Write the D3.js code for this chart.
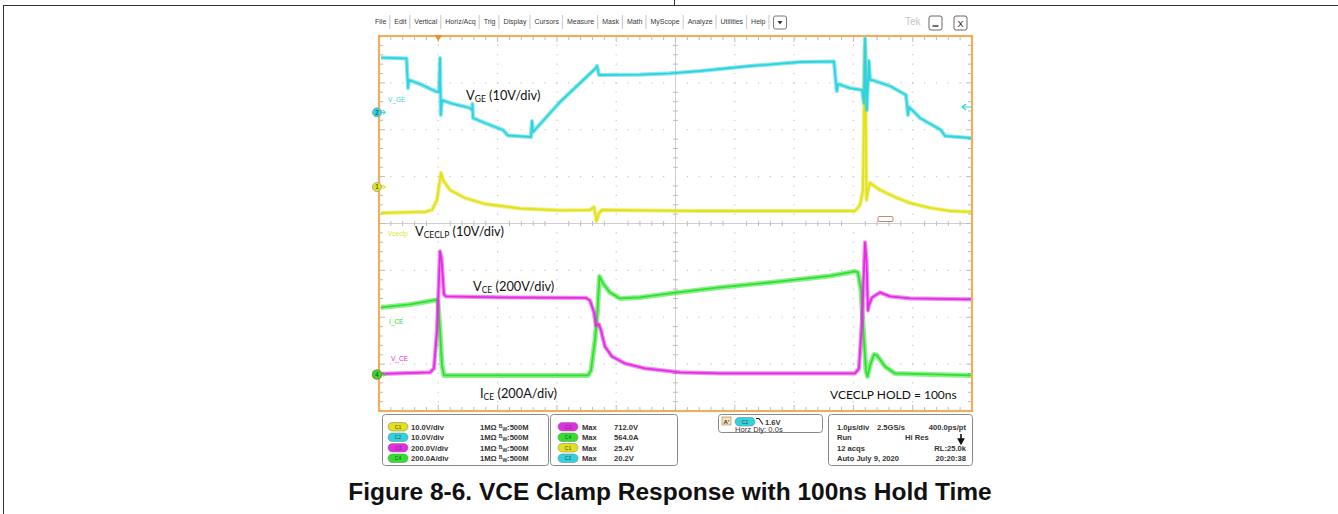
<!DOCTYPE html>
<html>
<head>
<meta charset="utf-8">
<script src="https://cdn.jsdelivr.net/npm/d3@7"></script>
<style>
  body { margin: 0; background: #fff; }
  svg { display: block; }
</style>
</head>
<body>
<svg id="chart" width="1338" height="514"></svg>
<script>
// ---- Acquired waveforms: [time (µs, trigger at 0), value in channel units] ----
const vgeTrace = [
  [-0.966, 11.67], [-0.536, 11.5], [-0.519, 7.34], [-0.511, 5.2], [-0.494, 6.91],
  [-0.309, 6.06], [-0.039, 4.46], [0.012, 4.35], [0.029, 11.6], [0.042, -0.55],
  [0.062, 2.64], [0.197, 2.0], [0.535, 0.94], [0.568, 0.5], [0.577, 1.8],
  [0.585, -1.2], [0.787, -2.26], [1.091, -3.75], [1.175, -4.93], [1.563, -5.25],
  [1.58, -1.83], [1.597, -4.18], [2.052, 2.22], [2.659, 9.47], [2.676, 9.9],
  [2.71, 7.98], [3.401, 8.08], [3.907, 8.34], [4.413, 8.83], [5.256, 9.9],
  [6.1, 10.75], [6.673, 10.86], [6.707, 6.06], [6.72, 4.56], [6.74, 6.06],
  [6.94, 5.2], [7.145, 4.78], [7.18, 2.0], [7.196, 15.8], [7.225, 0.5],
  [7.262, 11.0], [7.28, 6.9], [7.314, 6.91], [7.617, 5.63], [7.887, 3.71],
  [7.904, 1.58], [7.92, -0.55], [7.94, 1.15], [8.123, -1.19], [8.477, -3.75],
  [8.545, -5.03], [8.983, -5.46]
];
const vceclpTrace = [
  [-0.966, -5.55], [-0.224, -5.33], [-0.106, -4.91], [-0.022, -2.77], [0.046, 2.99],
  [0.079, 1.49], [0.197, -0.64], [0.45, -2.35], [0.788, -3.63], [1.378, -4.59],
  [2.052, -5.01], [2.558, -4.91], [2.625, -4.27], [2.668, -7.25], [2.71, -5.55],
  [2.76, -4.91], [4.413, -5.12], [7.027, -5.12], [7.111, -3.84], [7.162, -0.64],
  [7.196, 30.3], [7.221, -2.77], [7.246, -0.64], [7.28, 0.85], [7.449, -0.64],
  [7.7, -2.13], [7.954, -3.41], [8.292, -4.48], [8.629, -5.12], [8.983, -5.33]
];
const vceTrace = [
  [-0.966, 2.1], [-0.14, 8.5], [-0.073, 25.6], [-0.022, 187.7], [0.029, 524.8],
  [0.054, 494.9], [0.096, 341.3], [0.13, 332.8], [1.04, 328.5], [2.491, 326.4],
  [2.558, 315.7], [2.626, 264.5], [2.659, 209.0], [2.71, 213.3], [2.744, 187.7],
  [2.811, 119.5], [2.929, 76.8], [3.148, 46.9], [3.486, 25.6], [4.076, 8.5],
  [4.75, 4.3], [7.027, 4.3], [7.094, 25.6], [7.145, 230.4], [7.196, 563.2],
  [7.221, 486.4], [7.246, 273.0], [7.26, 294.0], [7.314, 328.5], [7.449, 349.9],
  [7.617, 332.8], [7.954, 324.3], [8.983, 320.0]
];
const iceTrace = [
  [-0.966, 285.9], [-0.477, 298.7], [-0.039, 317.9], [-0.005, 307.2], [0.029, 187.7],
  [0.062, 38.4], [0.096, -4.3], [1.04, -4.3], [2.524, -4.3], [2.575, 17.1],
  [2.642, 145.0], [2.685, 273.0], [2.718, 418.1], [2.777, 388.3], [2.895, 349.9],
  [3.064, 324.3], [3.401, 328.5], [3.907, 345.6], [4.75, 371.2], [5.762, 396.8],
  [6.605, 420.3], [7.027, 439.5], [7.077, 435.2], [7.128, 358.4], [7.179, 145.0],
  [7.212, 17.1], [7.238, -8.5], [7.28, 38.4], [7.347, 85.3], [7.398, 81.1],
  [7.533, 34.1], [7.702, 4.3], [8.983, -4.3]
];

// ---- Channel settings ----
const channelIds     = ["C1", "C2", "C3", "C4"];
const channelNames   = ["Vceclp", "V_GE", "V_CE", "I_CE"];
const channelScales  = [10, 10, 200, 200];          // units per division
const channelUnits   = ["V", "V", "V", "A"];
const channelOffsets = [0.779, 2.37, -3.22, -3.22]; // ground position, divisions
const channelColors  = ["#e2e21a", "#2fd3df", "#e22de2", "#2fe02f"];

// ---- Readouts ----
const scaleLabels = ["10.0V/div", "10.0V/div", "200.0V/div", "200.0A/div"];
const measChannels = ["C3", "C4", "C1", "C2"];
const measLabels = ["Max", "Max", "Max", "Max"];
const measValues = ["712.0V", "564.0A", "25.4V", "20.2V"];
const timebaseRows = [
  ["1.0µs/div", "2.5GS/s", "400.0ps/pt"],
  ["Run", "Hi Res", ""],
  ["12 acqs", "", "RL:25.0k"],
  ["Auto   July 9, 2020", "", "20:20:38"]
];
const menuItems = ["File", "Edit", "Vertical", "Horiz/Acq", "Trig", "Display", "Cursors",
  "Measure", "Mask", "Math", "MyScope", "Analyze", "Utilities", "Help"];

const svg = d3.select("#chart");
const SANS = "'Liberation Sans', Arial, sans-serif";

// Page frame lines
svg.append("line").attr("x1", 3.5).attr("x2", 1338).attr("y1", 5.5).attr("y2", 5.5)
  .attr("stroke", "#333").attr("stroke-width", 1);
svg.append("line").attr("x1", 3.5).attr("x2", 3.5).attr("y1", 5).attr("y2", 514)
  .attr("stroke", "#333").attr("stroke-width", 1);
svg.append("line").attr("x1", 674.5).attr("x2", 674.5).attr("y1", 0).attr("y2", 5)
  .attr("stroke", "#333").attr("stroke-width", 1);

// ---- Scales ----
const x = d3.scaleLinear().domain([-1, 9]).range([379, 972]);
const yDiv = d3.scaleLinear().domain([-4, 4]).range([411, 36]);
const [px0, px1] = x.range();
const [py1, py0] = yDiv.range();

// ---- Menu bar ----
const menu = svg.append("g").attr("font-family", SANS).attr("font-size", 7).attr("fill", "#3a3a3a");
let mx = 375;
menuItems.forEach((m, i) => {
  const t = menu.append("text").attr("x", mx).attr("y", 23.5).text(m);
  const w = t.node().getComputedTextLength();
  mx += w + 4;
  menu.append("line").attr("x1", mx - 0.5).attr("x2", mx - 0.5).attr("y1", 15).attr("y2", 29)
    .attr("stroke", "#b8b8b8").attr("stroke-width", 0.8);
  mx += 4;
});
const dropBox = menu.append("g").attr("transform", `translate(${mx},16)`);
dropBox.append("rect").attr("width", 13).attr("height", 13).attr("rx", 2)
  .attr("fill", "#fff").attr("stroke", "#666").attr("stroke-width", 0.9);
dropBox.append("path").attr("d", "M4,5 L9,5 L6.5,8.5 Z").attr("fill", "#333");
menu.append("text").attr("x", 905).attr("y", 24.5).attr("font-size", 10)
  .attr("fill", "#c4c4c4").text("Tek");
[[929, "min"], [954, "X"]].forEach(([bx, k]) => {
  const g = menu.append("g").attr("transform", `translate(${bx},16)`);
  g.append("rect").attr("width", 13).attr("height", 14).attr("rx", 2)
    .attr("fill", "#fff").attr("stroke", "#555").attr("stroke-width", 0.9);
  if (k === "min") {
    g.append("line").attr("x1", 3.5).attr("x2", 9.5).attr("y1", 10).attr("y2", 10)
      .attr("stroke", "#222").attr("stroke-width", 1.3);
  } else {
    g.append("text").attr("x", 6.5).attr("y", 10.5).attr("text-anchor", "middle")
      .attr("font-size", 9).attr("fill", "#222").text("X");
  }
});

// ---- Graticule ----
const grid = svg.append("g");
const minorX = (x(1) - x(0)) / 5;
const minorY = (yDiv(0) - yDiv(1)) / 5;
const gridColor = "#c6c6c6";
d3.range(-1, 10).forEach(d => {
  if (d === -1 || d === 9) return;
  const gx = x(d);
  if (d === 4) {
    grid.append("line").attr("x1", gx).attr("x2", gx).attr("y1", py0).attr("y2", py1)
      .attr("stroke", "#cfcfcf").attr("stroke-width", 1);
  } else {
    grid.append("line").attr("x1", gx).attr("x2", gx).attr("y1", py0).attr("y2", py1)
      .attr("stroke", gridColor).attr("stroke-width", 1.2)
      .attr("stroke-dasharray", `1.2 ${minorY - 1.2}`).attr("stroke-dashoffset", 0.6);
  }
});
d3.range(-4, 5).forEach(d => {
  if (d === -4 || d === 4) return;
  const gy = yDiv(d);
  if (d === 0) {
    grid.append("line").attr("x1", px0).attr("x2", px1).attr("y1", gy).attr("y2", gy)
      .attr("stroke", "#cfcfcf").attr("stroke-width", 1);
  } else {
    grid.append("line").attr("x1", px0).attr("x2", px1).attr("y1", gy).attr("y2", gy)
      .attr("stroke", gridColor).attr("stroke-width", 1.2)
      .attr("stroke-dasharray", `1.2 ${minorX - 1.2}`).attr("stroke-dashoffset", 0.6);
  }
});
// minor ticks on centre lines and edges
const tickPath = d3.path();
d3.range(0, 51).forEach(i => {
  const tx = px0 + i * minorX;
  if (i % 5 === 0 || i === 50) return;
  tickPath.moveTo(tx, yDiv(0) - 2.5); tickPath.lineTo(tx, yDiv(0) + 2.5);
  tickPath.moveTo(tx, py0); tickPath.lineTo(tx, py0 + 4);
  tickPath.moveTo(tx, py1); tickPath.lineTo(tx, py1 - 4);
});
d3.range(0, 41).forEach(i => {
  const ty = py0 + i * minorY;
  if (i % 5 === 0 || i === 40) return;
  tickPath.moveTo(x(4) - 2.5, ty); tickPath.lineTo(x(4) + 2.5, ty);
  tickPath.moveTo(px0, ty); tickPath.lineTo(px0 + 4, ty);
  tickPath.moveTo(px1, ty); tickPath.lineTo(px1 - 4, ty);
});
d3.range(1, 10).forEach(i => {
  const tx = px0 + i * minorX * 5;
  tickPath.moveTo(tx, py0); tickPath.lineTo(tx, py0 + 6);
  tickPath.moveTo(tx, py1); tickPath.lineTo(tx, py1 - 6);
});
d3.range(1, 8).forEach(i => {
  const ty = py0 + i * minorY * 5;
  tickPath.moveTo(px0, ty); tickPath.lineTo(px0 + 6, ty);
  tickPath.moveTo(px1, ty); tickPath.lineTo(px1 - 6, ty);
});
grid.append("path").attr("d", tickPath.toString()).attr("stroke", "#bdbdbd")
  .attr("stroke-width", 1).attr("fill", "none");

// ---- Waveforms ----
svg.append("clipPath").attr("id", "screen").append("rect")
  .attr("x", px0).attr("y", py0).attr("width", px1 - px0).attr("height", py1 - py0);
const traces = svg.append("g").attr("clip-path", "url(#screen)");
const traceSets = [
  { data: iceTrace, ch: 3, band: 5 },
  { data: vceTrace, ch: 2, band: 4.2 },
  { data: vceclpTrace, ch: 0, band: 4.2 },
  { data: vgeTrace, ch: 1, band: 4.2 }
];
traceSets.forEach(s => {
  const line = d3.line()
    .x(d => x(d[0]))
    .y(d => yDiv(d[1] / channelScales[s.ch] + channelOffsets[s.ch]));
  traces.append("path").datum(s.data).attr("d", line).attr("fill", "none")
    .attr("stroke", channelColors[s.ch]).attr("stroke-width", s.band)
    .attr("stroke-opacity", 0.55).attr("stroke-linejoin", "round");
  traces.append("path").datum(s.data).attr("d", line).attr("fill", "none")
    .attr("stroke", channelColors[s.ch]).attr("stroke-width", 1.8)
    .attr("stroke-linejoin", "round");
});

// Reference marker box on the yellow baseline
svg.append("rect").attr("x", 878).attr("y", 216.5).attr("width", 15).attr("height", 5)
  .attr("rx", 1).attr("fill", "#fff").attr("stroke", "#b87a66").attr("stroke-width", 0.9);

// Screen border
svg.append("rect").attr("x", px0).attr("y", py0).attr("width", px1 - px0).attr("height", py1 - py0)
  .attr("fill", "none").attr("stroke", "#eab060").attr("stroke-width", 2.2);

// Trigger position marker
svg.append("path")
  .attr("d", `M${x(0) - 4},${py0 - 1} L${x(0) + 4},${py0 - 1} L${x(0)},${py0 + 5} Z`)
  .attr("fill", "#f0902a");
// Trigger level arrow (channel 2)
svg.append("path").attr("d", "M963,107 L972,107 M966,104 L962,107 L966,110")
  .attr("stroke", channelColors[1]).attr("stroke-width", 1.2).attr("fill", "none");

// Channel ground markers
[[1, "2"], [0, "1"], [3, "4"]].forEach(([ch, label]) => {
  const gy = yDiv(channelOffsets[ch]);
  const g = svg.append("g").attr("transform", `translate(377,${gy})`);
  g.append("path").attr("d", "M4,0 L8,0 M6,-2 L8.5,0 L6,2")
    .attr("stroke", channelColors[ch]).attr("stroke-width", 1).attr("fill", "none");
  g.append("circle").attr("r", 4.6).attr("fill", channelColors[ch])
    .attr("stroke", ch === 3 ? "#7a9a3a" : "#9a9a9a").attr("stroke-width", ch === 3 ? 1.3 : 0.7);
  g.append("text").attr("y", 2.3).attr("text-anchor", "middle").attr("font-family", SANS)
    .attr("font-size", 6.5).attr("fill", "#333").text(label);
});

// Channel trace labels on screen
const tinyLabels = [[1, 388, 102, "V_GE"], [0, 388, 235.5, "Vceclp"], [3, 389, 324, "I_CE"], [2, 391, 360.5, "V_CE"]];
tinyLabels.forEach(([ch, lx, ly, txt]) => {
  svg.append("text").attr("x", lx).attr("y", ly).attr("font-family", SANS)
    .attr("font-size", 6.5).attr("fill", channelColors[ch]).text(txt);
});

// ---- Annotations ----
const ANN = "Lato, 'Open Sans', sans-serif";
function annot(ax, ay, main, sub, rest) {
  const t = svg.append("text").attr("x", ax).attr("y", ay).attr("font-family", ANN)
    .attr("font-size", 12.8).attr("fill", "#111");
  t.append("tspan").text(main);
  if (sub) t.append("tspan").attr("font-size", 8.5).attr("dy", 2.2).text(sub);
  t.append("tspan").attr("dy", sub ? -2.2 : 0).text(rest);
}
annot(466, 100, "V", "GE", " (10V/div)");
annot(415, 236, "V", "CECLP", " (10V/div)");
annot(473, 291, "V", "CE", " (200V/div)");
annot(480, 398, "I", "CE", " (200A/div)");
svg.append("text").attr("x", 830).attr("y", 399).attr("font-family", ANN)
  .attr("font-size", 12).attr("fill", "#111").text("VCECLP HOLD = 100ns");

// ---- Readout panel ----
const panel = svg.append("g").attr("font-family", SANS).attr("font-weight", "bold")
  .attr("font-size", 7.6).attr("fill", "#333");
const boxStroke = "#8a8a8a";
[[382, 166], [550, 127], [828, 144]].forEach(([bx, bw]) => {
  panel.append("rect").attr("x", bx + 0.5).attr("y", 414.5).attr("width", bw).attr("height", 51)
    .attr("rx", 3).attr("fill", "#fff").attr("stroke", boxStroke).attr("stroke-width", 1);
});
panel.append("rect").attr("x", 718.5).attr("y", 414.5).attr("width", 104).attr("height", 18)
  .attr("rx", 3).attr("fill", "#fff").attr("stroke", boxStroke).attr("stroke-width", 1);

const rowY = [429.5, 440, 450.5, 461];
function pill(g, px, py, id) {
  const ci = channelIds.indexOf(id);
  g.append("rect").attr("x", px).attr("y", py - 7).attr("width", 20).attr("height", 8.5)
    .attr("rx", 4.2).attr("fill", channelColors[ci]).attr("stroke", "#777").attr("stroke-width", 0.5);
  g.append("text").attr("x", px + 10).attr("y", py - 0.6).attr("text-anchor", "middle")
    .attr("font-size", 5).attr("font-weight", "normal").attr("fill", "#444").text(id);
}
channelIds.forEach((id, i) => {
  pill(panel, 388, rowY[i], id);
  panel.append("text").attr("x", 411).attr("y", rowY[i]).text(scaleLabels[i]);
  const imp = panel.append("text").attr("x", 480).attr("y", rowY[i]);
  imp.append("tspan").text("1MΩ ");
  imp.append("tspan").attr("font-size", 5).attr("dy", -2).text("B");
  imp.append("tspan").attr("font-size", 5).attr("dy", 3).text("W");
  imp.append("tspan").attr("dy", -1).text(":500M");
});
measChannels.forEach((id, i) => {
  pill(panel, 558, rowY[i], id);
  panel.append("text").attr("x", 582).attr("y", rowY[i]).text(measLabels[i]);
  panel.append("text").attr("x", 614).attr("y", rowY[i]).text(measValues[i]);
});
// trigger readout
panel.append("rect").attr("x", 722).attr("y", 417).attr("width", 9).attr("height", 8)
  .attr("fill", "#f3e2c8").attr("stroke", "#c08a40").attr("stroke-width", 0.7);
panel.append("text").attr("x", 723.5).attr("y", 423.5).attr("font-size", 6).text("A'");
pill(panel, 735, 424.5, "C2");
panel.append("path").attr("d", "M756,418.5 L759,418.5 L763,424.5")
  .attr("stroke", "#222").attr("stroke-width", 1.1).attr("fill", "none");
panel.append("text").attr("x", 765).attr("y", 424.5).text("1.6V");
panel.append("text").attr("x", 735).attr("y", 431.5).attr("font-weight", "normal").text("Horz Dly:   0.0s");
// timebase readout
timebaseRows.forEach((r, i) => {
  panel.append("text").attr("x", 837).attr("y", rowY[i]).text(r[0]);
  if (r[1]) panel.append("text").attr("x", i === 0 ? 877 : 905).attr("y", rowY[i]).text(r[1]);
  if (r[2]) panel.append("text").attr("x", 966).attr("y", rowY[i]).attr("text-anchor", "end").text(r[2]);
});
panel.append("path").attr("d", "M961,434 L961,441 M958.5,439 L961,443.5 L963.5,439 Z")
  .attr("stroke", "#111").attr("stroke-width", 1.6).attr("fill", "#111");

// ---- Caption ----
svg.append("text").attr("x", 670).attr("y", 500).attr("text-anchor", "middle")
  .attr("font-family", SANS).attr("font-weight", "bold").attr("font-size", 24.5)
  .attr("fill", "#111").text("Figure 8-6. VCE Clamp Response with 100ns Hold Time");
</script>
</body>
</html>
